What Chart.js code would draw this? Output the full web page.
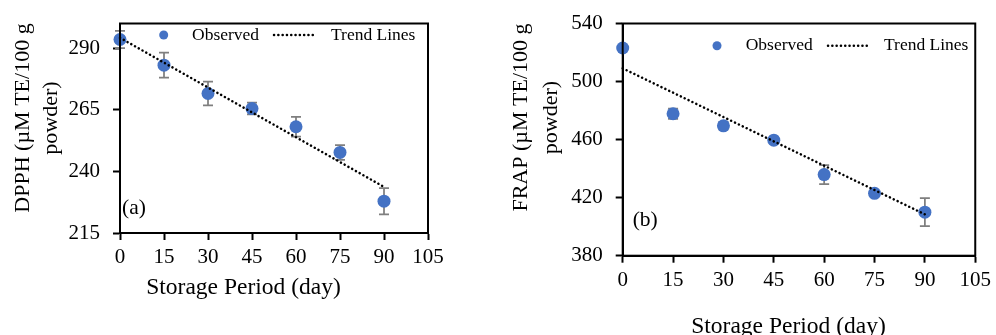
<!DOCTYPE html>
<html>
<head>
<meta charset="utf-8">
<script src="https://cdn.jsdelivr.net/npm/chart.js@4"></script>
<style>
  body { margin: 0; overflow: hidden; background: #fff; }
  canvas { position: absolute; top: 0; }
</style>
</head>
<body>
<canvas id="chartA" width="450" height="335" style="left:0"></canvas>
<canvas id="chartB" width="496" height="335" style="left:500px"></canvas>
<script>
// storage days and tick labels
const days = [0, 15, 30, 45, 60, 75, 90];
const trendDays = [0, 90];
const xTickValues = [0, 15, 30, 45, 60, 75, 90, 105];

// (a) DPPH
const dpphObserved = [293.5, 283.1, 271.6, 265.5, 258.1, 247.7, 227.9];
const dpphError = [3.5, 5.1, 4.8, 2.4, 4.0, 3.0, 5.3];
const dpphTrend = [294.2, 233.7];
const dpphTicks = [215, 240, 265, 290];

// (b) FRAP
const frapObserved = [523.1, 477.8, 469.5, 459.6, 435.9, 423.0, 410.0];
const frapError = [1.0, 3.5, 2.5, 1.5, 6.5, 1.5, 9.6];
const frapTrend = [509.1, 408.5];
const frapTicks = [380, 420, 460, 500, 540];

const SERIF = '"Liberation Serif", "Times New Roman", serif';
const BLUE = "#4472C4";

// error bars, frame, legend and titles
function decorFor(cfg) {
  return {
    id: "decor",
    beforeDatasetsDraw(chart) {
      const { ctx, scales: { x, y } } = chart;
      ctx.save();
      ctx.strokeStyle = "#7f7f7f";
      ctx.lineWidth = 1.75;
      cfg.values.forEach((v, i) => {
        const px = x.getPixelForValue(days[i]);
        const top = y.getPixelForValue(v + cfg.errors[i]);
        const bot = y.getPixelForValue(v - cfg.errors[i]);
        ctx.beginPath();
        ctx.moveTo(px, top); ctx.lineTo(px, bot);
        ctx.moveTo(px - 5, top); ctx.lineTo(px + 5, top);
        ctx.moveTo(px - 5, bot); ctx.lineTo(px + 5, bot);
        ctx.stroke();
      });
      ctx.restore();
    },
    afterDraw(chart) {
      const { ctx, chartArea: a } = chart;
      ctx.save();
      // frame
      ctx.strokeStyle = "#000";
      ctx.lineWidth = 2;
      ctx.strokeRect(a.left, a.top, a.right - a.left, a.bottom - a.top);

      // legend
      const lg = cfg.legend;
      ctx.fillStyle = BLUE;
      ctx.beginPath();
      ctx.arc(lg.markerX, lg.y, 4.5, 0, Math.PI * 2);
      ctx.fill();
      ctx.strokeStyle = "#000";
      ctx.lineWidth = 2.5;
      ctx.lineCap = "round";
      ctx.setLineDash([0.1, 4.2]);
      ctx.beginPath();
      ctx.moveTo(lg.lineX0, lg.y);
      ctx.lineTo(lg.lineX1, lg.y);
      ctx.stroke();
      ctx.setLineDash([]);
      ctx.fillStyle = "#000";
      ctx.font = "17.5px " + SERIF;
      ctx.textBaseline = "middle";
      ctx.textAlign = "left";
      ctx.fillText("Observed", lg.textX, lg.y);
      ctx.fillText("Trend Lines", lg.trendTextX, lg.y);

      // panel tag
      ctx.font = "21.5px " + SERIF;
      ctx.fillText(cfg.tag.text, cfg.tag.x, cfg.tag.y);

      // x title
      ctx.font = "23.5px " + SERIF;
      ctx.textAlign = "center";
      ctx.fillText("Storage Period (day)", cfg.xTitle.x, cfg.xTitle.y);

      // y title, two lines
      ctx.font = "22px " + SERIF;
      cfg.yTitle.lines.forEach((line, i) => {
        ctx.save();
        ctx.translate(cfg.yTitle.xs[i], cfg.yTitle.y);
        ctx.rotate(-Math.PI / 2);
        ctx.fillText(line, 0, 0);
        ctx.restore();
      });
      ctx.restore();
    },
  };
}

function makeChart(id, cfg) {
  const ctx = document.getElementById(id).getContext("2d");
  return new Chart(ctx, {
    type: "scatter",
    data: {
      datasets: [
        {
          type: "line",
          label: "Trend Lines",
          order: 0,
          data: trendDays.map((d, i) => ({ x: d, y: cfg.trend[i] })),
          borderColor: "#000",
          borderWidth: 2.5,
          borderDash: [0.1, 4.2],
          borderCapStyle: "round",
          pointRadius: 0,
          fill: false,
          clip: false,
        },
        {
          label: "Observed",
          order: 1,
          data: days.map((d, i) => ({ x: d, y: cfg.values[i] })),
          backgroundColor: BLUE,
          borderWidth: 0,
          pointRadius: 6.5,
          clip: false,
        },
      ],
    },
    options: {
      responsive: false,
      animation: false,
      layout: { padding: cfg.padding },
      plugins: { legend: { display: false }, tooltip: { enabled: false } },
      scales: {
        x: {
          type: "linear",
          min: 0,
          max: 105,
          afterBuildTicks: (s) => { s.ticks = xTickValues.map((v) => ({ value: v })); },
          afterFit: (s) => { s.height = cfg.xHeight; },
          grid: { drawOnChartArea: false, tickLength: 7, tickColor: "#000", tickWidth: 2 },
          border: { color: "#000", width: 2 },
          ticks: { color: "#000", padding: 5, font: { family: SERIF, size: 21, lineHeight: 1.2 } },
        },
        y: {
          type: "linear",
          min: cfg.yMin,
          max: cfg.yMax,
          afterBuildTicks: (s) => { s.ticks = cfg.yTicks.map((v) => ({ value: v })); },
          afterFit: (s) => { s.width = cfg.yWidth; },
          grid: { drawOnChartArea: false, tickLength: 7, tickColor: "#000", tickWidth: 2 },
          border: { color: "#000", width: 2 },
          ticks: { color: "#000", padding: 13, font: { family: SERIF, size: 21, lineHeight: 1 } },
        },
      },
    },
    plugins: [decorFor(cfg)],
  });
}

makeChart("chartA", {
  values: dpphObserved,
  errors: dpphError,
  trend: dpphTrend,
  yTicks: dpphTicks,
  yMin: 215,
  yMax: 300,
  padding: { left: 0, right: 22, top: 15, bottom: 0 },
  yWidth: 120,
  xHeight: 102,
  legend: { markerX: 163.7, textX: 192, lineX0: 274, lineX1: 315, trendTextX: 331, y: 35 },
  tag: { text: "(a)", x: 122, y: 208 },
  xTitle: { x: 243.5, y: 288 },
  yTitle: { lines: ["DPPH (µM TE/100 g", "powder)"], xs: [23, 51], y: 118 },
});

makeChart("chartB", {
  values: frapObserved,
  errors: frapError,
  trend: frapTrend,
  yTicks: frapTicks,
  yMin: 380,
  yMax: 540,
  padding: { left: 0, right: 16, top: 22.7, bottom: 0 },
  yWidth: 122.7,
  xHeight: 79.3,
  legend: { markerX: 217, textX: 245.7, lineX0: 328, lineX1: 370, trendTextX: 384, y: 45.7 },
  tag: { text: "(b)", x: 132.7, y: 220 },
  xTitle: { x: 288.5, y: 326.6 },
  yTitle: { lines: ["FRAP (µM TE/100 g", "powder)"], xs: [21.7, 51.7], y: 117.5 },
});
</script>
</body>
</html>
